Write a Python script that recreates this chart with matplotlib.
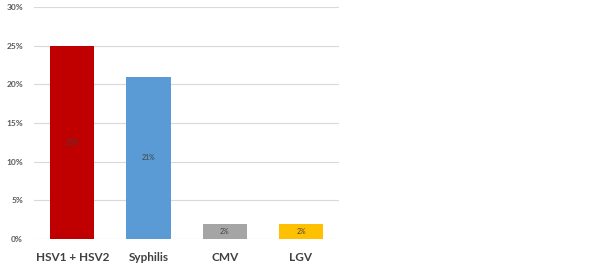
import matplotlib
matplotlib.use("Agg")
import matplotlib.pyplot as plt

plt.rcParams["font.family"] = ["Lato", "DejaVu Sans"]

categories = ["HSV1 + HSV2", "Syphilis", "CMV", "LGV"]
values = [25, 21, 2, 2]
colors = ["#C00000", "#5B9BD5", "#A5A5A5", "#FFC000"]
yticks = [0, 5, 10, 15, 20, 25, 30]

fig = plt.figure(figsize=(6, 2.65), dpi=100)
ax = fig.add_axes([0.057, 0.098, 0.508, 0.876])
x = range(len(categories))
bars = ax.bar(x, values, width=0.58, color=colors, zorder=3)
for xi, v in zip(x, values):
    ax.text(xi, v / 2, f"{v}%", ha="center", va="center", fontsize=5, color="#404040", zorder=4)

ax.set_xlim(-0.5, 3.5)
ax.set_ylim(0, 30)
ax.set_yticks(yticks)
ax.set_yticklabels([f"{t}%" for t in yticks], fontsize=6, fontweight="bold", color="#595959")
ax.set_xticks(list(x))
ax.set_xticklabels(categories, fontsize=8.5, fontweight="bold", color="#404040")
ax.tick_params(axis="both", length=0)
ax.tick_params(axis="x", pad=9.5)
ax.tick_params(axis="y", pad=8)
ax.grid(axis="y", color="#D9D9D9", linewidth=0.8, zorder=0)
for s in ax.spines.values():
    s.set_visible(False)

fig.savefig("out.png", dpi=100)
